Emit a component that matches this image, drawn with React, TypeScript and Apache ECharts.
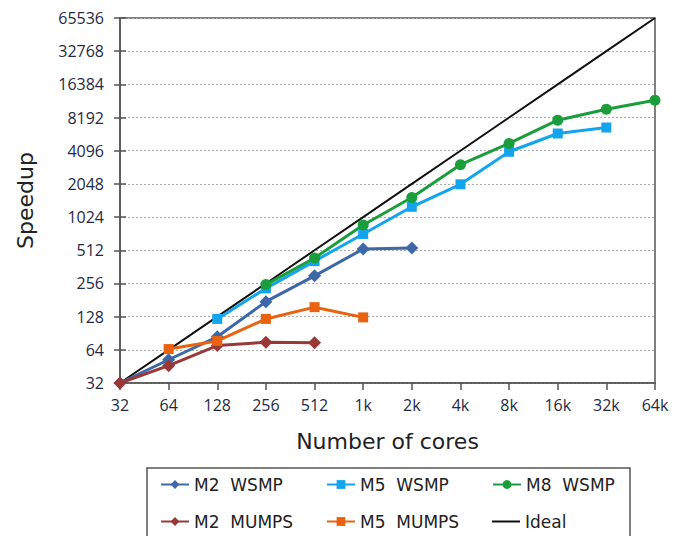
import React, { useEffect, useRef } from "react";
import * as echarts from "echarts";

const categories = ["32", "64", "128", "256", "512", "1k", "2k", "4k", "8k", "16k", "32k", "64k"];
const m2Wsmp = [32, 52, 84, 175, 300, 526, 537, null, null, null, null, null];
const m5Wsmp = [null, null, 122, 231, 408, 720, 1270, 2030, 4010, 5870, 6650, null];
const m8Wsmp = [null, null, null, 250, 436, 867, 1540, 3060, 4770, 7750, 9740, 11740];
const m2Mumps = [32, 46, 70, 75, 74, null, null, null, null, null, null, null];
const m5Mumps = [null, 65, 77, 122, 156, 126, null, null, null, null, null, null];
const ideal = [32, 64, 128, 256, 512, 1024, 2048, 4096, 8192, 16384, 32768, 65536];

const FONT = "'Open Sans', 'DejaVu Sans', sans-serif";
const DEJAVU = "'DejaVu Sans', sans-serif";

export default function App() {
  const ref = useRef<HTMLDivElement>(null);
  useEffect(() => {
    if (!ref.current) return;
    const chart = echarts.init(ref.current, null, { renderer: "svg" });
    const mk = (name: string, data: any[], color: string, symbol: string, size: number) => ({
      name,
      type: "line",
      data,
      color,
      symbol,
      symbolSize: size,
      showSymbol: true,
      lineStyle: { width: 3, color },
      itemStyle: { color },
      connectNulls: false,
      z: 3,
    });
    const legendPos = [
      { name: "M2  WSMP", left: 160, top: 476 },
      { name: "M5  WSMP", left: 326, top: 476 },
      { name: "M8  WSMP", left: 492, top: 476 },
      { name: "M2  MUMPS", left: 160, top: 513 },
      { name: "M5  MUMPS", left: 326, top: 513 },
    ];
    const yCommon = {
      type: "log",
      logBase: 2,
      min: 32,
      max: 65536,
      interval: 1,
    };
    const legendText = { fontSize: 17, color: "#222", fontFamily: DEJAVU };
    chart.setOption({
      animation: false,
      backgroundColor: "#fff",
      textStyle: { fontFamily: FONT },
      grid: {
        left: 120,
        right: 31,
        top: 18,
        bottom: 153,
        show: true,
        borderColor: "#555",
        borderWidth: 1.5,
      },
      legend: [
        ...legendPos.map((l) => ({
          data: [l.name],
          left: l.left,
          top: l.top,
          itemWidth: 28,
          itemHeight: 11,
          padding: 0,
          textStyle: legendText,
        })),
        {
          data: ["Ideal"],
          left: 492,
          top: 513,
          icon: "rect",
          itemWidth: 28,
          itemHeight: 2,
          padding: [0, 0, 0, 0],
          textStyle: legendText,
        },
      ],
      xAxis: {
        type: "category",
        data: categories,
        boundaryGap: false,
        name: "Number of cores",
        nameLocation: "middle",
        nameGap: 47,
        nameTextStyle: { fontSize: 22, color: "#222", fontFamily: DEJAVU },
        axisLine: { lineStyle: { color: "#555", width: 1.5 } },
        axisTick: { show: true, length: 7, lineStyle: { color: "#555", width: 1.5 }, alignWithLabel: true },
        axisLabel: { fontSize: 16, color: "#1f2a44", margin: 14, fontFamily: FONT },
        splitLine: { show: false },
      },
      yAxis: [
        {
          ...yCommon,
          name: "Speedup",
          nameLocation: "middle",
          nameRotate: 90,
          nameGap: 84,
          nameTextStyle: { fontSize: 22, color: "#222", fontFamily: DEJAVU },
          axisLine: { show: true, lineStyle: { color: "#555", width: 1.5 } },
          axisTick: { show: true, length: 6, lineStyle: { color: "#555", width: 1.5 } },
          axisLabel: {
            fontSize: 16,
            color: "#1f2a44",
            margin: 16,
            fontFamily: FONT,
            formatter: (v: number) => String(Math.round(v)),
          },
          splitLine: { show: true, lineStyle: { color: "#aaa", type: [2, 2], width: 1.2 } },
        },
        {
          ...yCommon,
          position: "left",
          axisLine: { show: false },
          axisTick: { show: true, inside: true, length: 6, lineStyle: { color: "#555", width: 1.5 } },
          axisLabel: { show: false },
          splitLine: { show: false },
        },
      ],
      series: [
        mk("M2  WSMP", m2Wsmp, "#3d68a8", "diamond", 13),
        mk("M5  WSMP", m5Wsmp, "#13a4ee", "rect", 10),
        mk("M8  WSMP", m8Wsmp, "#1a9e3c", "circle", 11),
        mk("M2  MUMPS", m2Mumps, "#9a3838", "diamond", 13),
        mk("M5  MUMPS", m5Mumps, "#e8620f", "rect", 10),
        {
          name: "Ideal",
          type: "line",
          data: ideal,
          color: "#111",
          symbol: "none",
          showSymbol: false,
          lineStyle: { width: 2, color: "#111" },
          itemStyle: { color: "#111" },
          z: 2,
        },
      ],
      graphic: [
        {
          type: "rect",
          shape: { x: 147, y: 468, width: 483, height: 90 },
          style: { fill: "none", stroke: "#555", lineWidth: 1.5 },
          z: -1,
        },
      ],
    });
    return () => chart.dispose();
  }, []);
  return <div ref={ref} style={{ width: 686, height: 536, position: "absolute", left: 0, top: 0 }} />;
}
